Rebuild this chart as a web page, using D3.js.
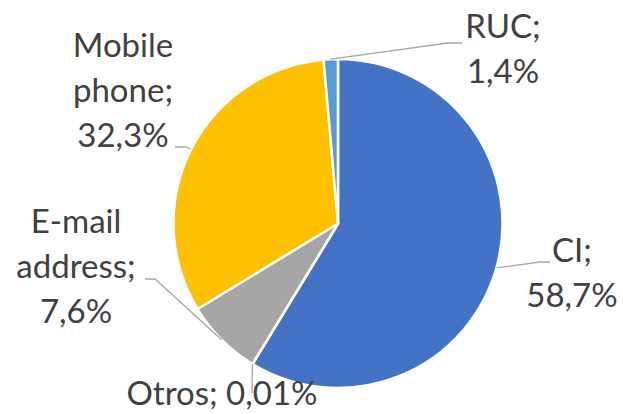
<!DOCTYPE html>
<html lang="es">
<head>
<meta charset="utf-8">
<title>Pie</title>
<script src="https://cdnjs.cloudflare.com/ajax/libs/d3/7.8.5/d3.min.js"></script>
<style>
  body { margin: 0; background: #fff; }
  svg text { font-family: Lato, "Open Sans", sans-serif; font-size: 33px; fill: #404040; }
</style>
</head>
<body>
<div id="chart"></div>
<script>
// data, clockwise from 12 o'clock
const categories = ["CI", "Otros", "E-mail address", "Mobile phone", "RUC"];
const shares = [58.7, 0.01, 7.6, 32.3, 1.4];
const colors = ["#4472C4", "#8497B0", "#A5A5A5", "#FFC000", "#5B9BD5"];
// how each label is wrapped into lines
const labelLines = [["CI;"], ["Otros; "], ["E-mail", "address;"], ["Mobile", "phone;"], ["RUC;"]];

// label layout: text centre, first baseline, leader elbow and end
const layout = [
  {x: 572, y: 262, one: false, elbow: [540, 262], end: [550, 262]},
  {x: 222, y: 405, one: true,  elbow: null, end: [252, 393]},
  {x: 76,  y: 233, one: false, elbow: [155, 279], end: [145, 279]},
  {x: 123, y: 57,  one: false, elbow: [186, 147], end: [175, 147]},
  {x: 503, y: 38,  one: false, elbow: [448, 43], end: [462, 43]}
];

const w = 623, h = 414;
const cx = 338, cy = 223.5, r = 164.5;
const lineH = 45;

const fmt = v => String(v).replace(".", ",") + "%";

const svg = d3.select("#chart").append("svg")
  .attr("width", w).attr("height", h);

const pie = d3.pie().sort(null).value(d => d)(shares);
const arc = d3.arc().innerRadius(0).outerRadius(r);

const g = svg.append("g").attr("transform", "translate(" + cx + "," + cy + ")");
g.selectAll("path")
  .data(pie)
  .enter()
  .append("path")
  .attr("d", arc)
  .attr("fill", (d, i) => colors[i])
  .attr("stroke", "#fff")
  .attr("stroke-width", 2.5)
  .attr("stroke-linejoin", "round");

// leader lines
pie.forEach((d, i) => {
  const a = (d.startAngle + d.endAngle) / 2;
  const p0 = [cx + r * Math.sin(a), cy - r * Math.cos(a)];
  const L = layout[i];
  const pts = [p0];
  if (L.elbow) pts.push(L.elbow);
  pts.push(L.end);
  svg.append("path")
    .attr("d", d3.line()(pts))
    .attr("fill", "none")
    .attr("stroke", "#A6A6A6")
    .attr("stroke-width", 1.3);
});

// labels
pie.forEach((d, i) => {
  const L = layout[i];
  let lines = labelLines[i].slice();
  if (L.one) lines[lines.length - 1] += fmt(shares[i]);
  else lines.push(fmt(shares[i]));
  const t = svg.append("text").attr("text-anchor", "middle");
  lines.forEach((s, k) => {
    t.append("tspan").attr("x", L.x).attr("y", L.y + k * lineH).text(s);
  });
});
</script>
</body>
</html>
